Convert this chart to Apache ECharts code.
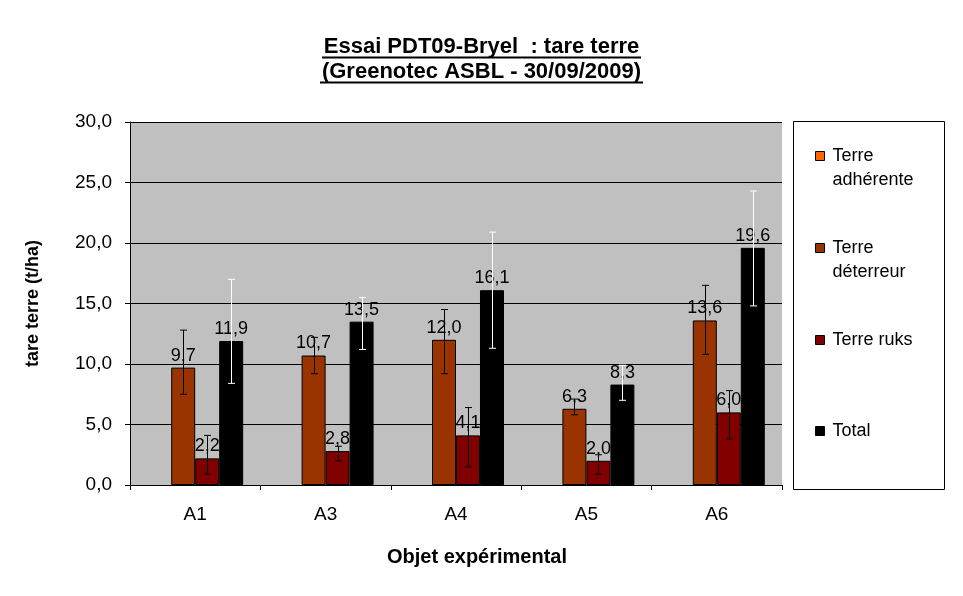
<!DOCTYPE html>
<html><head><meta charset="utf-8">
<script src="https://cdn.jsdelivr.net/npm/echarts@6/dist/echarts.min.js"></script>
<style>html,body{margin:0;padding:0;background:#fff}#c{width:963px;height:596px}</style>
</head><body><div id="c"></div>
<script>
const categories = ['A1', 'A3', 'A4', 'A5', 'A6'];
const seriesNames = ['Terre adhérente', 'Terre déterreur', 'Terre ruks', 'Total'];
const adherente = [null, null, null, null, null];
const deterreur = [9.7, 10.7, 12.0, 6.3, 13.6];
const ruks = [2.2, 2.8, 4.1, 2.0, 6.0];
const total = [11.9, 13.5, 16.1, 8.3, 19.6];
const deterreurErrLow = [7.5, 9.2, 9.2, 5.8, 10.8];
const deterreurErrHigh = [12.8, 12.2, 14.5, 7.1, 16.5];
const ruksErrLow = [0.9, 2.0, 1.5, 0.9, 3.8];
const ruksErrHigh = [4.1, 3.2, 6.4, 2.5, 7.8];
const totalErrLow = [8.4, 11.2, 11.3, 7.0, 14.8];
const totalErrHigh = [17.0, 15.5, 20.9, 9.9, 24.3];
const yMin = 0, yMax = 30, yInterval = 5;

const colors = ['#FF6600', '#993300', '#800000', '#000000'];
const FONT = 'Arial, "Liberation Sans", sans-serif';
const BAR_FRAC = 0.184;
const fmt = v => v.toFixed(1).replace('.', ',');

function barSeries(k, data) {
  return {
    type: 'bar', name: seriesNames[k], data: data,
    barWidth: (BAR_FRAC * 100) + '%', barGap: '0%',
    itemStyle: { color: colors[k], borderColor: '#000', borderWidth: 1 },
    label: {
      show: true, position: 'top', distance: 3, color: '#000',
      fontFamily: FONT, fontSize: 18,
      formatter: p => p.value == null ? '' : fmt(p.value)
    },
    z: 2
  };
}
function errSeries(k, low, high, color) {
  return {
    type: 'custom', name: seriesNames[k] + ' err', silent: true, z: 5,
    data: categories.map((c, i) => [i, low[i], high[i]]),
    encode: { x: 0, y: [1, 2] },
    renderItem: function (params, api) {
      const i = api.value(0);
      const lo = api.coord([i, api.value(1)]);
      const hi = api.coord([i, api.value(2)]);
      const bw = api.size([1, 0])[0] * BAR_FRAC;
      const x = Math.round(lo[0] + (k - 1.5) * bw) + 0.5;
      const cap = 3.5;
      const st = { stroke: color, lineWidth: 1 };
      return {
        type: 'group', children: [
          { type: 'line', shape: { x1: x, y1: lo[1], x2: x, y2: hi[1] }, style: st },
          { type: 'line', shape: { x1: x - cap, y1: lo[1], x2: x + cap, y2: lo[1] }, style: st },
          { type: 'line', shape: { x1: x - cap, y1: hi[1], x2: x + cap, y2: hi[1] }, style: st }
        ]
      };
    }
  };
}
function legendFor(k, top, twoLine) {
  return {
    left: 815, top: top, orient: 'vertical', padding: 0,
    icon: 'rect', itemWidth: 9, itemHeight: 9,
    itemStyle: { borderColor: '#000', borderWidth: 1 },
    selectedMode: false,
    textStyle: { fontFamily: FONT, fontSize: 18, color: '#000', lineHeight: 24, padding: [0, 0, 0, 3] },
    formatter: n => twoLine ? '\u00a0\n' + n.replace(' ', '\n') : n,
    data: [seriesNames[k]]
  };
}

const chart = echarts.init(document.getElementById('c'), null, { renderer: 'canvas' });
chart.setOption({
  animation: false,
  backgroundColor: '#fff',
  title: {
    text: 'Essai PDT09-Bryel  : tare terre\n(Greenotec ASBL - 30/09/2009)',
    left: 'center', top: 34, padding: 0,
    textStyle: { fontFamily: FONT, fontSize: 22, fontWeight: 'bold', color: '#000', lineHeight: 25 }
  },
  graphic: [
    { type: 'line', shape: { x1: 322, y1: 57.5, x2: 641, y2: 57.5 }, style: { stroke: '#000', lineWidth: 2 } },
    { type: 'line', shape: { x1: 320, y1: 82.5, x2: 643, y2: 82.5 }, style: { stroke: '#000', lineWidth: 2 } },
    { type: 'rect', shape: { x: 793.5, y: 121.5, width: 151, height: 368 }, style: { fill: 'none', stroke: '#000', lineWidth: 1 }, z: -1 }
  ],
  legend: [
    legendFor(0, 120, true),
    legendFor(1, 212, true),
    legendFor(2, 328, false),
    legendFor(3, 419, false)
  ],
  grid: { left: 130, right: 181, top: 122, bottom: 111, show: true, backgroundColor: '#C0C0C0', borderWidth: 0 },
  xAxis: {
    type: 'category', data: categories,
    axisLine: { lineStyle: { color: '#000' } },
    axisTick: { show: true, length: 5, lineStyle: { color: '#000' } },
    axisLabel: { color: '#000', fontFamily: FONT, fontSize: 19, margin: 20 },
    name: 'Objet expérimental', nameLocation: 'middle', nameGap: 62,
    nameTextStyle: { color: '#000', fontFamily: FONT, fontSize: 20, fontWeight: 'bold', padding: [0, 0, 0, 42] }
  },
  yAxis: {
    type: 'value', min: yMin, max: yMax, interval: yInterval,
    axisLine: { show: true, lineStyle: { color: '#000' } },
    axisTick: { show: true, length: 5, lineStyle: { color: '#000' } },
    splitLine: { lineStyle: { color: '#000', width: 1 } },
    axisLabel: { color: '#000', fontFamily: FONT, fontSize: 19, margin: 18, formatter: fmt },
    name: 'tare terre (t/ha)', nameLocation: 'middle', nameGap: 88, nameRotate: 90,
    nameTextStyle: { color: '#000', fontFamily: FONT, fontSize: 18, fontWeight: 'bold' }
  },
  series: [
    barSeries(0, adherente),
    barSeries(1, deterreur),
    barSeries(2, ruks),
    barSeries(3, total),
    errSeries(1, deterreurErrLow, deterreurErrHigh, '#000'),
    errSeries(2, ruksErrLow, ruksErrHigh, '#000'),
    errSeries(3, totalErrLow, totalErrHigh, '#fff')
  ]
});
</script>
</body></html>
